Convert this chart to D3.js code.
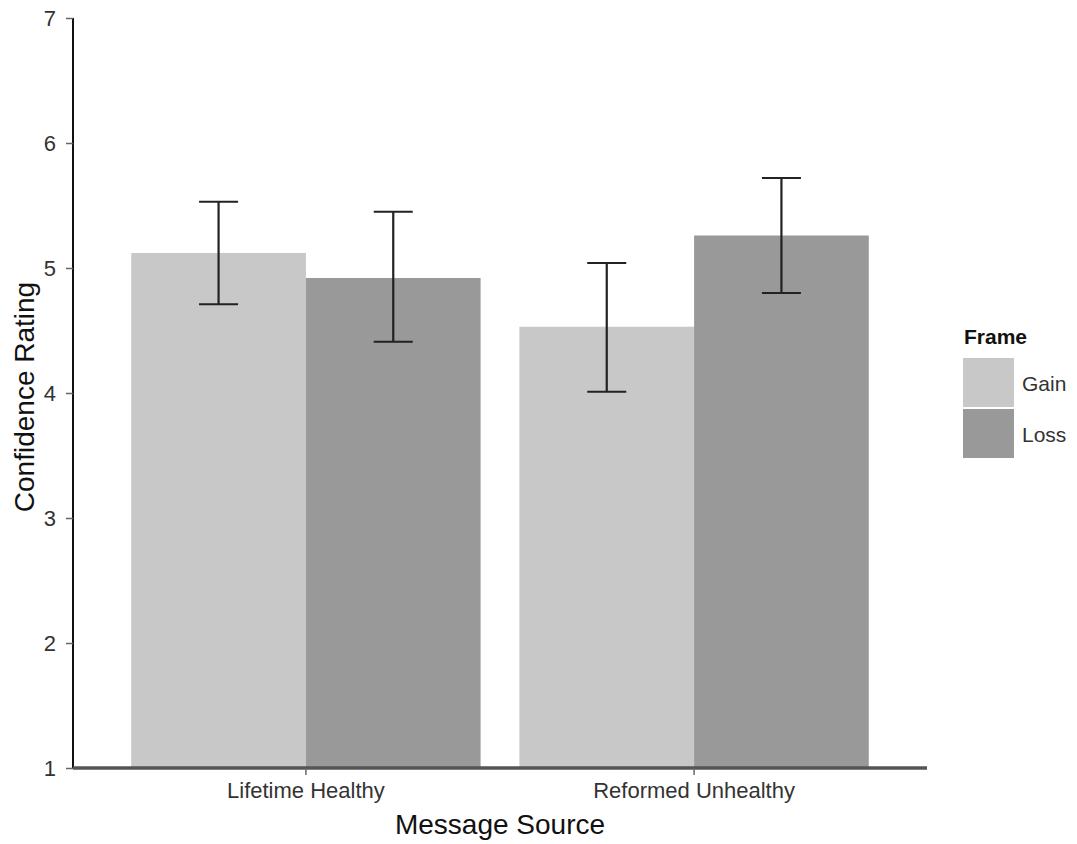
<!DOCTYPE html>
<html>
<head>
<meta charset="utf-8">
<script src="https://cdn.jsdelivr.net/npm/d3@7"></script>
<style>
  body { margin: 0; background: #fff; }
  text { font-family: "Liberation Sans", Arial, Helvetica, sans-serif; }
</style>
</head>
<body>
<div id="chart"></div>
<script>
// data
const sources = ["Lifetime Healthy", "Reformed Unhealthy"];
const frames = ["Gain", "Loss"];
const means = [[5.12, 4.92], [4.53, 5.26]];   // [source][frame]
const upper = [[5.53, 5.45], [5.04, 5.72]];
const lower = [[4.71, 4.41], [4.01, 4.80]];
const yTicks = [1, 2, 3, 4, 5, 6, 7];
const colors = ["#c8c8c8", "#999999"];

const width = 1077, height = 844;
const svg = d3.select("#chart").append("svg")
  .attr("width", width)
  .attr("height", height);

const x = d3.scaleBand()
  .domain(sources)
  .range([73, 927])
  .paddingInner(0.1)
  .paddingOuter(0.15);

const xInner = d3.scaleBand()
  .domain(frames)
  .range([0, x.bandwidth()]);

const y = d3.scaleLinear()
  .domain([1, 7])
  .range([768, 18]);

const color = d3.scaleOrdinal().domain(frames).range(colors);

// flatten for drawing
let rows = [];
sources.forEach((s, i) => {
  frames.forEach((f, j) => {
    rows.push({ source: s, frame: f, mean: means[i][j], hi: upper[i][j], lo: lower[i][j] });
  });
});

// bars
svg.append("g").selectAll("rect")
  .data(rows)
  .enter()
  .append("rect")
  .attr("x", d => x(d.source) + xInner(d.frame))
  .attr("y", d => y(d.mean))
  .attr("width", xInner.bandwidth())
  .attr("height", d => y(1) - y(d.mean))
  .attr("fill", d => color(d.frame));

// error bars
const capW = 39;
const eb = svg.append("g").attr("stroke", "#222").attr("stroke-width", 2.2);
rows.forEach(d => {
  let cx = x(d.source) + xInner(d.frame) + xInner.bandwidth() / 2;
  eb.append("line").attr("x1", cx).attr("x2", cx).attr("y1", y(d.hi)).attr("y2", y(d.lo));
  eb.append("line").attr("x1", cx - capW / 2).attr("x2", cx + capW / 2).attr("y1", y(d.hi)).attr("y2", y(d.hi));
  eb.append("line").attr("x1", cx - capW / 2).attr("x2", cx + capW / 2).attr("y1", y(d.lo)).attr("y2", y(d.lo));
});

// y axis
const yAxis = svg.append("g")
  .attr("transform", "translate(73,0)")
  .call(d3.axisLeft(y).tickValues(yTicks).tickSize(7).tickPadding(10).tickFormat(d3.format("d")));
yAxis.select(".domain").attr("d", "M0,18V768").attr("stroke", "#111").attr("stroke-width", 2);
yAxis.selectAll(".tick line").attr("stroke", "#666").attr("stroke-width", 1.5);
yAxis.selectAll(".tick text").attr("font-size", 22).attr("fill", "#333").attr("dy", "0.36em");

// x axis
const xAxis = svg.append("g")
  .attr("transform", "translate(0,768)")
  .call(d3.axisBottom(x).tickSize(7).tickPadding(10));
xAxis.select(".domain").attr("d", "M73,0H927").attr("stroke", "#555").attr("stroke-width", 3.5);
xAxis.selectAll(".tick line").attr("stroke", "#666").attr("stroke-width", 1.5);
xAxis.selectAll(".tick text").attr("font-size", 22).attr("fill", "#333").attr("dy", "0.6em");

// axis titles
svg.append("text")
  .attr("x", (73 + 927) / 2)
  .attr("y", 834)
  .attr("text-anchor", "middle")
  .attr("font-size", 28)
  .attr("fill", "#111")
  .text("Message Source");

svg.append("text")
  .attr("transform", "translate(34,397) rotate(-90)")
  .attr("text-anchor", "middle")
  .attr("font-size", 28)
  .attr("fill", "#111")
  .text("Confidence Rating");

// legend
const legend = svg.append("g").attr("transform", "translate(963,0)");
legend.append("text")
  .attr("x", 1)
  .attr("y", 344)
  .attr("font-size", 21)
  .attr("font-weight", "bold")
  .attr("fill", "#111")
  .text("Frame");
frames.forEach((f, i) => {
  legend.append("rect")
    .attr("x", 0)
    .attr("y", 358 + i * 51)
    .attr("width", 51)
    .attr("height", 49)
    .attr("fill", color(f));
  legend.append("text")
    .attr("x", 59)
    .attr("y", 391 + i * 51)
    .attr("font-size", 21)
    .attr("fill", "#333")
    .text(f);
});
</script>
</body>
</html>
